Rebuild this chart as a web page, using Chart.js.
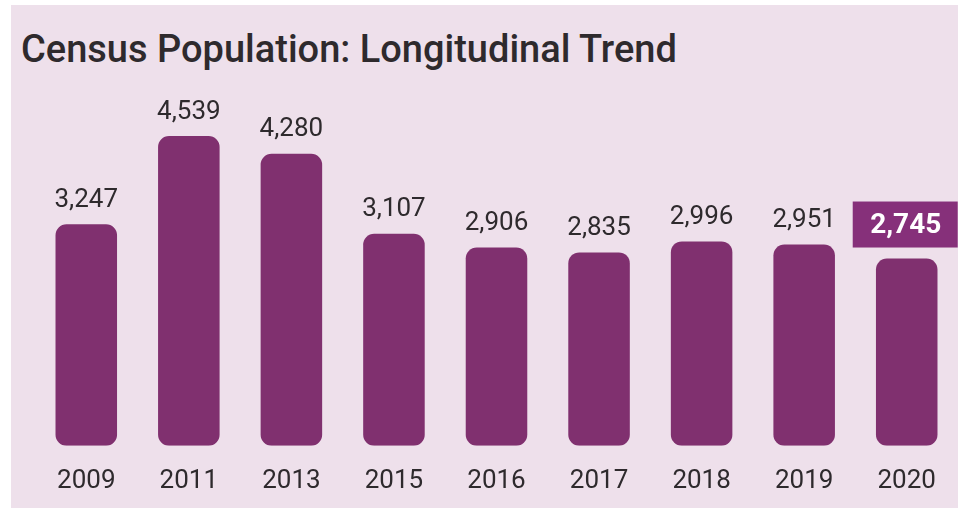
<!DOCTYPE html>
<html lang="en">
<head>
    <meta charset="UTF-8">
    <title>Census Population: Longitudinal Trend</title>
    <script src="https://cdn.jsdelivr.net/npm/chart.js"></script>
    <style>
        body {
            margin: 0;
            background: #ffffff;
            font-family: 'Roboto', sans-serif;
        }

        .panel {
            position: absolute;
            left: 11px;
            top: 5px;
            width: 947px;
            height: 503px;
            background: #eee0eb;
        }

        .title {
            position: absolute;
            left: 10px;
            top: 22px;
            font-size: 38px;
            font-weight: 500;
            color: #2e2a2d;
            white-space: nowrap;
        }

        /* canvas runs a bit past the panel so the axis sits low enough */
        .chart-box {
            position: absolute;
            left: 0;
            top: 85px;
            width: 947px;
            height: 443px;
        }
    </style>
</head>
<body>

<div class="panel">
    <div class="title">Census Population: Longitudinal Trend</div>
    <div class="chart-box">
        <canvas id="popChart"></canvas>
    </div>
</div>

<script>
    // census years and population counts
    var years = ['2009', '2011', '2013', '2015', '2016', '2017', '2018', '2019', '2020'];
    var population = [3247, 4539, 4280, 3107, 2906, 2835, 2996, 2951, 2745];

    var barColor = '#80306f';
    var highlightColor = '#86307a';

    // draws the number above each bar, the latest year gets a filled box
    var valueLabels = {
        id: 'valueLabels',
        afterDatasetsDraw: function(chart) {
            var ctx = chart.ctx;
            var bars = chart.getDatasetMeta(0).data;
            ctx.save();
            ctx.textAlign = 'center';
            ctx.textBaseline = 'middle';
            bars.forEach(function(bar, i) {
                var txt = population[i].toLocaleString('en-US');
                if (i === bars.length - 1) {
                    ctx.font = 'bold 28px Roboto';
                    var w = 105, h = 46;
                    var cy = bar.y - 11 - h / 2;
                    ctx.fillStyle = highlightColor;
                    ctx.fillRect(bar.x - 54, cy - h / 2, w, h);
                    ctx.fillStyle = '#ffffff';
                    ctx.fillText(txt, bar.x - 1, cy + 1);
                } else {
                    ctx.font = '26px Roboto';
                    ctx.fillStyle = '#2e2a2d';
                    ctx.fillText(txt, bar.x, bar.y - 24);
                }
            });
            ctx.restore();
        }
    };

    var ctx = document.getElementById('popChart').getContext('2d');
    var popChart = new Chart(ctx, {
        type: 'bar',
        data: {
            labels: years,
            datasets: [{
                data: population,
                backgroundColor: barColor,
                borderRadius: 11,
                borderSkipped: false,
                barPercentage: 0.6,
                categoryPercentage: 1
            }]
        },
        options: {
            responsive: true,
            maintainAspectRatio: false,
            animation: false,
            layout: {
                padding: { left: 24, right: 0, top: 0, bottom: 16 }
            },
            plugins: {
                legend: { display: false },
                tooltip: { enabled: false }
            },
            scales: {
                x: {
                    grid: { display: false, drawTicks: false },
                    border: { display: false },
                    ticks: {
                        padding: 20,
                        color: '#2e2a2d',
                        font: { family: 'Roboto', size: 26 }
                    }
                },
                y: {
                    display: false,
                    min: 0,
                    max: 5215
                }
            }
        },
        plugins: [valueLabels]
    });
</script>
</body>
</html>
